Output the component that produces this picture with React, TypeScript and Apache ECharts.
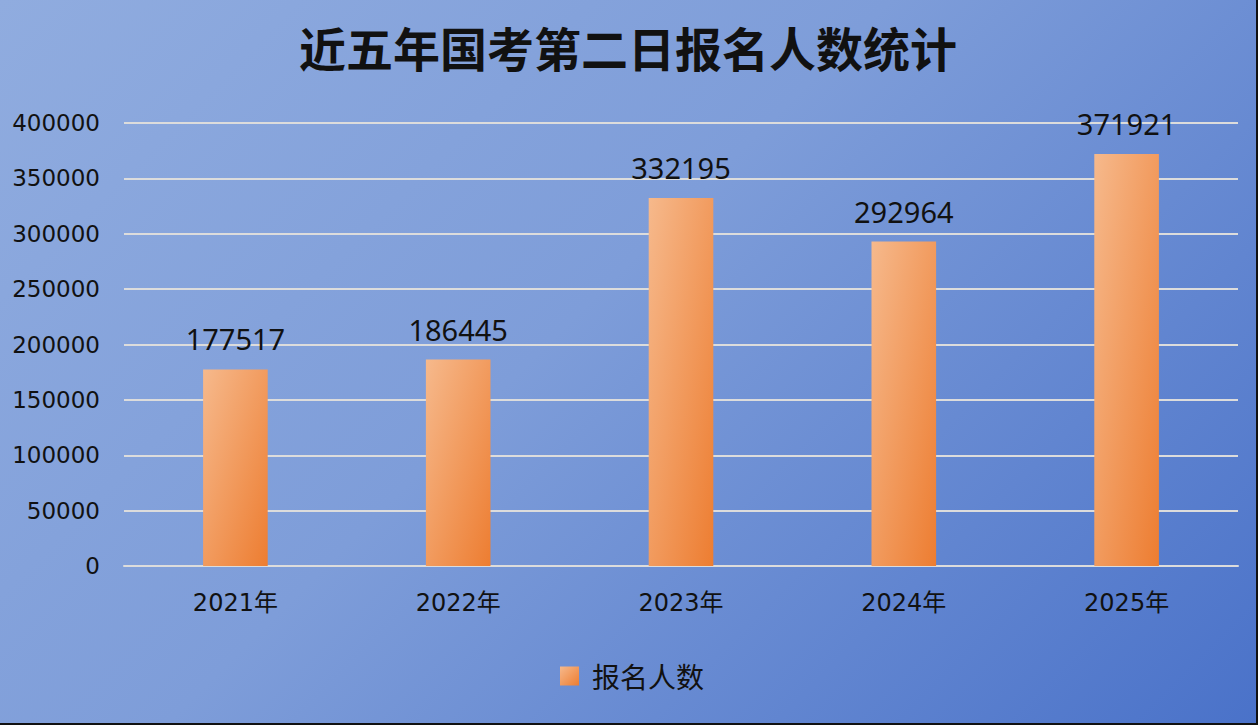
import { useEffect, useRef } from "react";
import * as echarts from "echarts";

const years = ["2021年", "2022年", "2023年", "2024年", "2025年"];
const applicants = [177517, 186445, 332195, 292964, 371921];
const seriesName = "报名人数";
const title = "近五年国考第二日报名人数统计";

const CJK = '"Noto Sans CJK SC", "Noto Sans", sans-serif';
const AXIS_FONT = '"DejaVu Sans", "Noto Sans CJK SC", sans-serif';

export default function App() {
    const ref = useRef<HTMLDivElement>(null);

    useEffect(() => {
        if (!ref.current) return;
        const chart = echarts.init(ref.current, undefined, { renderer: "svg" });
        const barFill = new echarts.graphic.LinearGradient(0, 0, 1, 1, [
            { offset: 0, color: "#f6b98c" },
            { offset: 1, color: "#ed7d31" },
        ]);
        chart.setOption({
            animation: false,
            backgroundColor: "transparent",
            title: {
                text: title,
                left: "center",
                top: 18,
                textStyle: { fontFamily: CJK, fontSize: 47, fontWeight: "bold", color: "#111" },
            },
            legend: {
                data: [{ name: seriesName, icon: "rect" }],
                bottom: 28,
                left: 555,
                itemWidth: 19,
                itemHeight: 19,
                textStyle: {
                    fontFamily: CJK,
                    fontSize: 28,
                    color: "#111",
                    padding: [0, 0, 0, 8],
                },
            },
            grid: { left: 124, right: 18, top: 123, bottom: 157 },
            xAxis: {
                type: "category",
                data: years,
                axisLine: { lineStyle: { color: "#dcdcdc", width: 2 } },
                axisTick: { show: false },
                axisLabel: { fontFamily: AXIS_FONT, fontSize: 24, color: "#111", margin: 25 },
            },
            yAxis: {
                type: "value",
                min: 0,
                max: 400000,
                interval: 50000,
                axisLine: { show: false },
                axisTick: { show: false },
                axisLabel: {
                    fontFamily: AXIS_FONT,
                    fontSize: 23,
                    color: "#111",
                    margin: 24,
                    formatter: (v: number) => String(v),
                },
                splitLine: { lineStyle: { color: "#dcdcdc", width: 2 } },
            },
            series: [
                {
                    name: seriesName,
                    type: "bar",
                    data: applicants,
                    barWidth: "29%",
                    itemStyle: { color: barFill },
                    label: {
                        show: true,
                        position: "top",
                        distance: 16,
                        fontFamily: '"Noto Sans", sans-serif',
                        fontSize: 29,
                        color: "#111",
                    },
                },
            ],
        });
        return () => chart.dispose();
    }, []);

    return (
        <div
            style={{
                position: "fixed",
                left: 0,
                top: 0,
                width: 1258,
                height: 725,
                boxSizing: "border-box",
                borderRight: "2px solid #111",
                borderBottom: "2px solid #111",
                background: "linear-gradient(135deg, #90acdf 0%, #7e9dd9 45%, #4a72c9 100%)",
            }}
        >
            <div ref={ref} style={{ width: 1256, height: 723 }} />
        </div>
    );
}
